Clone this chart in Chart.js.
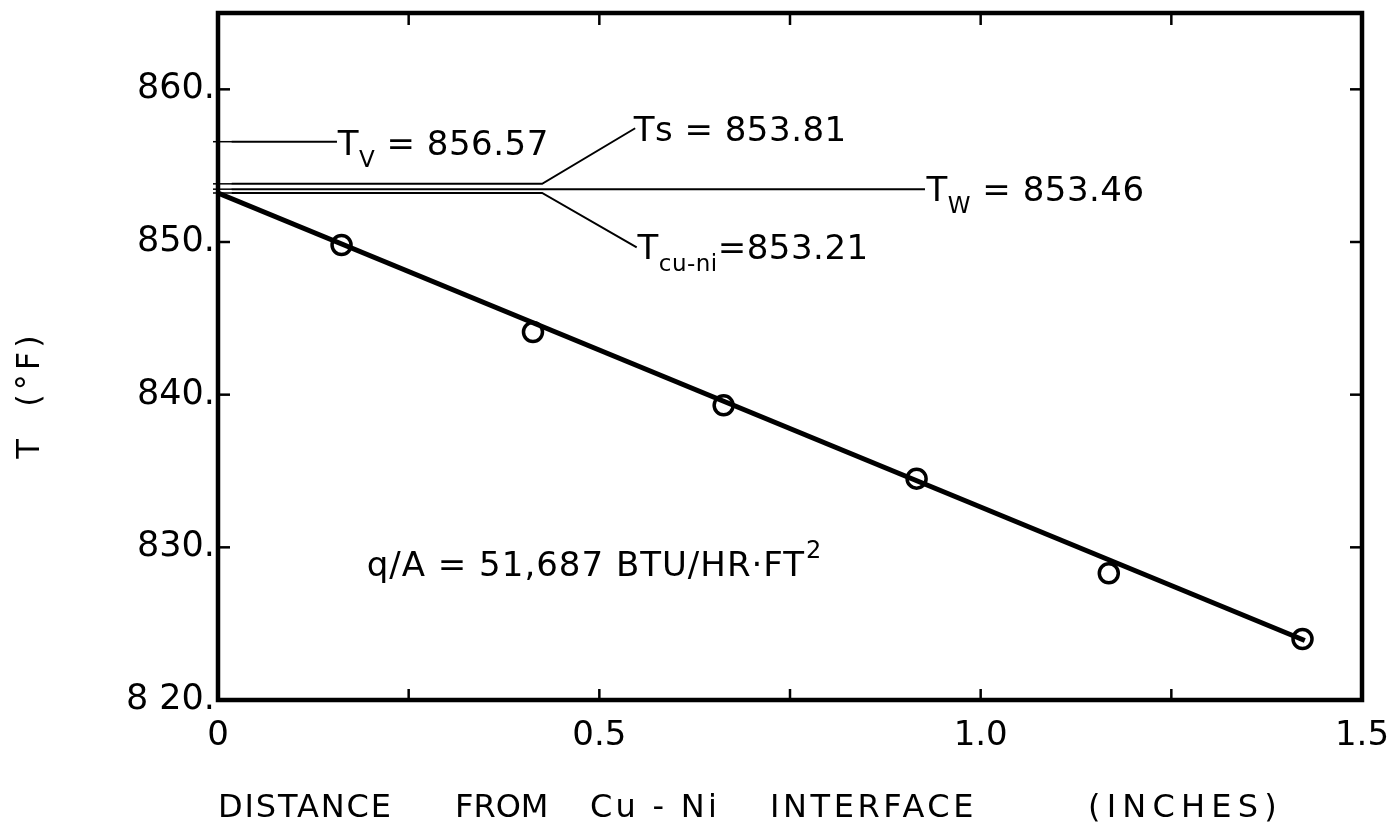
<!DOCTYPE html>
<html>
<head>
<meta charset="utf-8">
<title>T vs distance from Cu-Ni interface</title>
<script src="https://cdn.jsdelivr.net/npm/chart.js@4.4.0/dist/chart.umd.min.js"></script>
<style>
html, body { margin: 0; padding: 0; background: #fff; }
</style>
</head>
<body>
<canvas id="canvas" width="1393" height="822"></canvas>
<script>
// measured points
var distance = [0.162, 0.413, 0.663, 0.916, 1.168, 1.422];
var temperature = [849.8, 844.1, 839.3, 834.5, 828.3, 824.0];
// fitted straight line
var fitDistance = [0, 1.425];
var fitTemperature = [853.21, 823.9];
// reference temperatures
var refNames = ['V', 's', 'W', 'cu-ni'];
var refValues = [856.57, 853.81, 853.46, 853.21];
var heatFlux = '51,687';
// axes
var xTicks = [0, 0.5, 1.0, 1.5];
var xTickLabels = ['0', '0.5', '1.0', '1.5'];
var xMarks = [0.25, 0.5, 0.75, 1.0, 1.25];
var yTicks = [820, 830, 840, 850, 860];
var yTickLabels = ['8 20.', '830.', '840.', '850.', '860.'];
var yMarks = [830, 840, 850, 860];
var xTitleWords = ['DISTANCE', 'FROM', 'Cu - Ni', 'INTERFACE', '(INCHES)'];

var FONT = "'DejaVu Sans', sans-serif";

// where each reference line runs and where its label sits (data units)
var refLayout = [
    {from: 0.018, to: 0.156, text: [0.157, 855.73], sub: true},
    {from: 0.018, to: 0.425, lead: [0.547, 857.45], text: [0.545, 856.6], sub: false},
    {from: 0.018, to: 0.927, text: [0.929, 852.71], sub: true},
    {from: 0.018, to: 0.425, lead: [0.549, 849.65], text: [0.550, 848.9], sub: true, tight: true}
];
var fluxPos = [0.195, 828.1];
// title words: left edge and width in pixels
var xTitleStarts = [218, 455, 590, 770, 1088];
var xTitleWidths = [175, 93, 130, 207, 195];

var datasets = [];
datasets.push({
    label: 'fit',
    data: fitDistance.map(function(x, i) { return {x: x, y: fitTemperature[i]}; }),
    showLine: true,
    borderColor: '#000',
    borderWidth: 5,
    pointRadius: 0,
    order: 2
});
refValues.forEach(function(v, i) {
    var lay = refLayout[i];
    var pts = [{x: lay.from, y: v}, {x: lay.to, y: v}];
    if (lay.lead) pts.push({x: lay.lead[0], y: lay.lead[1]});
    datasets.push({
        label: 'T' + refNames[i],
        data: pts,
        showLine: true,
        borderColor: '#000',
        borderWidth: 2,
        pointRadius: 0,
        order: 3
    });
});
datasets.push({
    label: 'measured',
    data: distance.map(function(x, i) { return {x: x, y: temperature[i]}; }),
    showLine: false,
    pointStyle: 'circle',
    pointRadius: 9.5,
    borderWidth: 3.5,
    borderColor: '#000',
    backgroundColor: 'rgba(0,0,0,0)',
    order: 1
});

function seg(ctx, x1, y1, x2, y2) {
    ctx.beginPath();
    ctx.moveTo(x1, y1);
    ctx.lineTo(x2, y2);
    ctx.stroke();
}

function noPad(scale) {
    scale.paddingTop = 0;
    scale.paddingBottom = 0;
    scale.paddingLeft = 0;
    scale.paddingRight = 0;
}

var framePlugin = {
    id: 'frame',
    afterDatasetsDraw: function(chart) {
        var ctx = chart.ctx, a = chart.chartArea;
        var xs = chart.scales.x, ys = chart.scales.y;
        ctx.save();
        ctx.strokeStyle = '#000';
        ctx.fillStyle = '#000';
        ctx.lineWidth = 4.5;
        ctx.strokeRect(a.left, a.top, a.right - a.left, a.bottom - a.top);
        ctx.lineWidth = 2.5;
        xMarks.forEach(function(v) {
            var px = xs.getPixelForValue(v);
            seg(ctx, px, a.bottom, px, a.bottom - 11);
            seg(ctx, px, a.top, px, a.top + 12);
        });
        yMarks.forEach(function(v) {
            var py = ys.getPixelForValue(v);
            seg(ctx, a.left, py, a.left + 12, py);
            seg(ctx, a.right, py, a.right - 12, py);
        });
        ctx.lineWidth = 1.5;
        refValues.forEach(function(v) {
            var py = ys.getPixelForValue(v);
            seg(ctx, a.left - 5, py, a.left + 14, py);
        });

        // reference labels
        ctx.textBaseline = 'alphabetic';
        ctx.textAlign = 'left';
        ctx.letterSpacing = '0.5px';
        refValues.forEach(function(v, i) {
            var lay = refLayout[i];
            var x = xs.getPixelForValue(lay.text[0]);
            var y = ys.getPixelForValue(lay.text[1]);
            ctx.font = '34px ' + FONT;
            ctx.fillText('T', x, y);
            x += ctx.measureText('T').width;
            if (lay.sub) {
                ctx.font = '23px ' + FONT;
                ctx.fillText(refNames[i], x, y + 12);
                x += ctx.measureText(refNames[i]).width;
            } else {
                ctx.fillText(refNames[i], x, y);
                x += ctx.measureText(refNames[i]).width;
            }
            ctx.font = '34px ' + FONT;
            var rest = lay.tight ? '=' + v.toFixed(2) : ' = ' + v.toFixed(2);
            ctx.fillText(rest, x, y);
        });

        // heat flux note
        var fx = xs.getPixelForValue(fluxPos[0]);
        var fy = ys.getPixelForValue(fluxPos[1]);
        ctx.font = '34px ' + FONT;
        ctx.letterSpacing = '1px';
        var note = 'q/A = ' + heatFlux + ' BTU/HR\u00b7FT';
        ctx.fillText(note, fx, fy);
        var nw = ctx.measureText(note).width;
        ctx.font = '24px ' + FONT;
        ctx.fillText('2', fx + nw + 1, fy - 18);

        // axis titles, each word stretched to its width
        ctx.font = '32px ' + FONT;
        xTitleWords.forEach(function(w, i) {
            ctx.letterSpacing = '0px';
            var natural = ctx.measureText(w).width;
            var sp = (xTitleWidths[i] - natural) / w.length;
            ctx.letterSpacing = Math.max(0, sp).toFixed(2) + 'px';
            ctx.fillText(w, xTitleStarts[i], 817);
        });

        ctx.translate(31, 395);
        ctx.rotate(-Math.PI / 2);
        ctx.textAlign = 'center';
        ctx.textBaseline = 'middle';
        ctx.letterSpacing = '4px';
        ctx.fillText('T  (\u00b0F)', 0, 0);
        ctx.restore();
    }
};

var ctx = document.getElementById('canvas').getContext('2d');
var myChart = new Chart(ctx, {
    type: 'scatter',
    data: { datasets: datasets },
    options: {
        responsive: false,
        animation: false,
        devicePixelRatio: 1,
        layout: { padding: { top: 12, right: 31, left: 0, bottom: 0 } },
        plugins: {
            legend: { display: false },
            tooltip: { enabled: false }
        },
        scales: {
            x: {
                type: 'linear',
                min: 0,
                max: 1.5,
                afterBuildTicks: function(scale) {
                    scale.ticks = xTicks.map(function(v) { return {value: v}; });
                },
                afterFit: function(scale) { scale.height = 122; noPad(scale); },
                grid: { display: false, drawTicks: false },
                border: { display: false },
                ticks: {
                    autoSkip: false,
                    maxRotation: 0,
                    padding: 16,
                    color: '#000',
                    font: { family: FONT, size: 34 },
                    callback: function(v, i) { return xTickLabels[i]; }
                }
            },
            y: {
                type: 'linear',
                min: 820,
                max: 865,
                afterBuildTicks: function(scale) {
                    scale.ticks = yTicks.map(function(v) { return {value: v}; });
                },
                afterFit: function(scale) { scale.width = 218; noPad(scale); },
                grid: { display: false, drawTicks: false },
                border: { display: false },
                ticks: {
                    autoSkip: false,
                    padding: 3,
                    color: '#000',
                    font: { family: FONT, size: 35 },
                    callback: function(v, i) { return yTickLabels[i]; }
                }
            }
        }
    },
    plugins: [framePlugin]
});
</script>
</body>
</html>
